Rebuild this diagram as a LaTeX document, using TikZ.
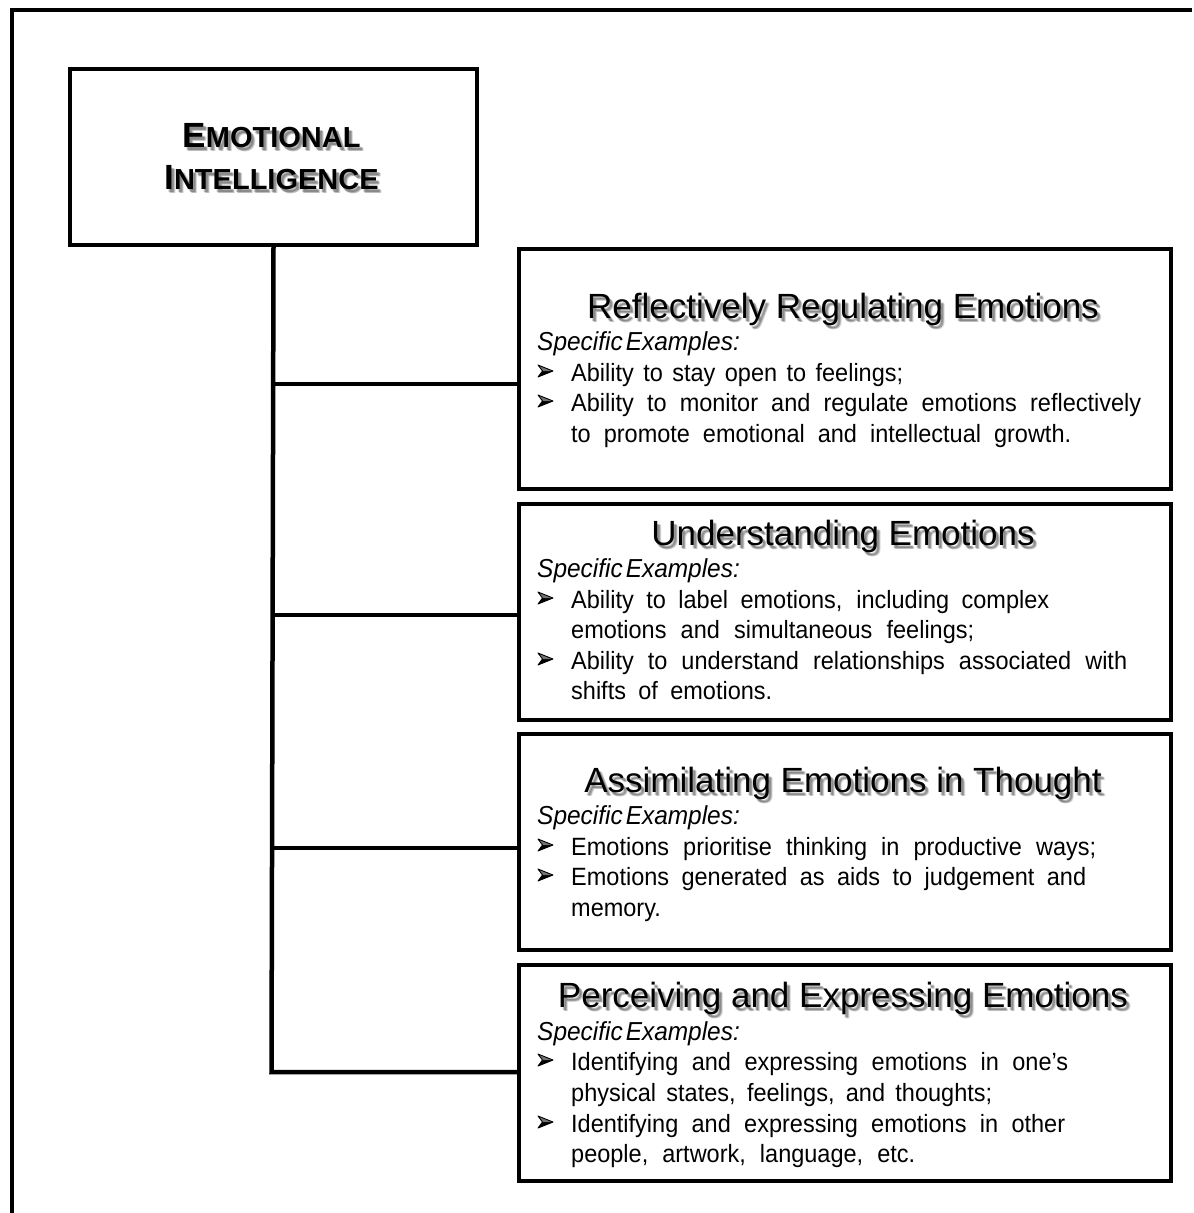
\documentclass[tikz,border=0pt]{standalone}
\usepackage{fontspec}
\setmainfont{Liberation Sans}
\newfontfamily\narrowfont[FakeStretch=0.94]{Liberation Sans}
\newfontfamily\labelfont[FakeStretch=0.94]{Liberation Sans}

% heading with a soft drop shadow: name, x, y (baseline), text
\newcommand{\headline}[4]{%
  \foreach \dx/\dy in {2/3,3/3,3/4,4/4}
    \node[head, opacity=0.14] at (#2+\dx,#3+\dy) {#4};
  \node[head] (#1) at (#2,#3) {#4};}
% arrowhead bullet whose base sits on baseline y
\newcommand{\arrowbullet}[1]{%
  \fill[black] (538,#1-4) -- (553,#1-10) -- (542.5,#1-10) -- cycle;
  \fill[black!55] (538,#1-16) -- (553,#1-10) -- (542.5,#1-10) -- cycle;
  \draw[line width=0.9pt, line join=round] (538,#1-16) -- (553,#1-10) -- (538,#1-4) -- (542.5,#1-10) -- cycle;}
% bullet line: name, baseline y, width, text
\newcommand{\bline}[4]{%
  \arrowbullet{#2}
  \node[body] (#1) at (571,#2) {\makebox[#3pt][s]{#4}};}
% continuation line: name, baseline y, width, text
\newcommand{\contline}[4]{%
  \node[body] (#1) at (571,#2) {\makebox[#3pt][s]{#4}};}
% "Specific Examples:" label: name, baseline y
\newcommand{\spex}[2]{%
  \node[body, font=\labelfont\fontsize{26}{30}\selectfont\itshape] (#1) at (537,#2) {Specific\hspace{3pt}Examples:};}
% small-caps title line: name, baseline y, first letter, rest
\newcommand{\titleline}[4]{%
  \foreach \dx/\dy in {2/3,3/3,3/4,4/4}
    \node[titletext, opacity=0.14] at (271.5+\dx,#2+\dy) {{\fontsize{35}{40}\selectfont #3}#4};
  \node[titletext] (#1) at (271.5,#2) {{\fontsize{35}{40}\selectfont #3}#4};}

\begin{document}
\begin{tikzpicture}[x=1pt,y=-1pt,
  frame/.style={line width=4pt},
  box/.style={draw, line width=4pt, fill=white, inner sep=0pt},
  link/.style={line width=4.5pt},
  head/.style={anchor=base, inner sep=0pt, font=\fontsize{35}{40}\selectfont},
  titletext/.style={anchor=base, inner sep=0pt, font=\fontsize{29}{33}\selectfont\bfseries},
  body/.style={anchor=base west, inner sep=0pt, font=\narrowfont\fontsize{25}{29}\selectfont}]

\fill[white] (0,0) rectangle (1194,1213);
\useasboundingbox (0,0) rectangle (1194,1213);

% outer frame (top and left edges)
\draw[frame] (12,1213) -- (12,10) -- (1192,10);

% root box
\node[box, anchor=north west, minimum width=407pt, minimum height=176pt] (ei) at (68,67) {};
\titleline{ei1}{147}{E}{MOTIONAL}
\titleline{ei2}{189}{I}{NTELLIGENCE}

% branch boxes
\node[box, anchor=north west, minimum width=652pt, minimum height=240pt] (b1) at (517,247) {};
\node[box, anchor=north west, minimum width=652pt, minimum height=216pt] (b2) at (517,502) {};
\node[box, anchor=north west, minimum width=652pt, minimum height=216pt] (b3) at (517,732) {};
\node[box, anchor=north west, minimum width=652pt, minimum height=216pt] (b4) at (517,963) {};

% junctions on the trunk
\coordinate (j1) at (271.5,384);
\coordinate (j2) at (271.5,615);
\coordinate (j3) at (271.5,848);
\coordinate (j4) at (271.5,1072);

% connectors
\draw[link] (ei.south) -- (j4) -- (j4 -| b4.west);
\draw[link] (j1) -- (j1 -| b1.west);
\draw[link] (j2) -- (j2 -| b2.west);
\draw[link] (j3) -- (j3 -| b3.west);

% box 1
\headline{h1}{843}{318}{Reflectively Regulating Emotions}
\spex{s1}{350}
\bline{t11}{381}{332}{Ability to stay open to feelings;}
\bline{t12}{411}{570}{Ability to monitor and regulate emotions reflectively}
\contline{t13}{442}{500}{to promote emotional and intellectual growth.}

% box 2
\headline{h2}{843}{545}{Understanding Emotions}
\spex{s2}{577}
\bline{t21}{608}{478}{Ability to label emotions, including complex}
\contline{t22}{638}{403}{emotions and simultaneous feelings;}
\bline{t23}{669}{556}{Ability to understand relationships associated with}
\contline{t24}{699}{201}{shifts of emotions.}

% box 3
\headline{h3}{843}{792}{Assimilating Emotions in Thought}
\spex{s3}{824}
\bline{t31}{855}{525}{Emotions prioritise thinking in productive ways;}
\bline{t32}{885}{515}{Emotions generated as aids to judgement and}
\contline{t33}{916}{94}{memory.}

% box 4
\headline{h4}{843}{1007}{Perceiving and Expressing Emotions}
\spex{s4}{1040}
\bline{t41}{1070}{497}{Identifying and expressing emotions in one’s}
\contline{t42}{1101}{421}{physical states, feelings, and thoughts;}
\bline{t43}{1132}{494}{Identifying and expressing emotions in other}
\contline{t44}{1162}{344}{people, artwork, language, etc.}
\end{tikzpicture}
\end{document}
